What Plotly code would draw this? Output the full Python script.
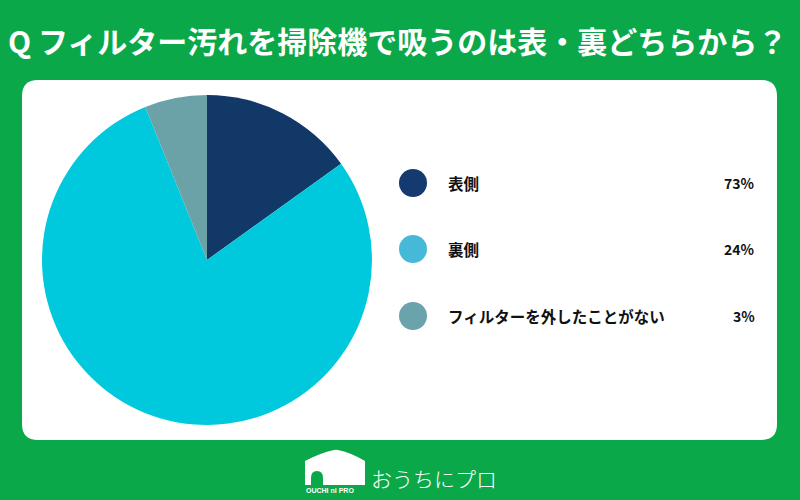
import plotly.graph_objects as go

# ---- data ----
title_text = "Q フィルター汚れを掃除機で吸うのは表・裏どちらから？"
categories = ["表側", "裏側", "フィルターを外したことがない"]
legend_pct = ["73%", "24%", "3%"]
pie_share = [15.1, 78.8, 6.1]          # slice sizes as drawn in the picture
pie_colors = ["#123868", "#00c9dd", "#6aa2a8"]
legend_colors = ["#143a70", "#45b9d7", "#6aa3ac"]
brand_text = "おうちにプロ"
brand_small = "OUCHI ni PRO"

GREEN = "#0ba84a"
FONT = "Noto Sans CJK JP"

W, H = 800, 500
fig = go.Figure()

# pie
fig.add_trace(go.Pie(
    values=pie_share, labels=categories,
    marker=dict(colors=pie_colors, line=dict(width=0)),
    sort=False, direction="clockwise", rotation=0,
    textinfo="none", hoverinfo="label+percent",
    domain=dict(x=[42 / W, 372 / W], y=[1 - 425 / H, 1 - 95 / H]),
    showlegend=False,
))

# legend markers
leg_y = [183, 249, 316]
fig.add_trace(go.Scatter(
    x=[413] * 3, y=leg_y, mode="markers",
    marker=dict(size=28, color=legend_colors, line=dict(width=0)),
    showlegend=False, hoverinfo="skip",
))

shapes = []
# white rounded panel
x0, y0, x1, y1, r = 22, 80, 777, 440, 16
panel = (f"M {x0+r},{y0} L {x1-r},{y0} Q {x1},{y0} {x1},{y0+r} "
         f"L {x1},{y1-r} Q {x1},{y1} {x1-r},{y1} L {x0+r},{y1} "
         f"Q {x0},{y1} {x0},{y1-r} L {x0},{y0+r} Q {x0},{y0} {x0+r},{y0} Z")
shapes.append(dict(type="path", path=panel, xref="x", yref="y",
                   fillcolor="white", line=dict(width=0), layer="below"))
# house logo
house = "M 305,461 Q 320,453 334,450 Q 336,449.5 338,450 Q 352,453 365,461 L 365,485 L 305,485 Z"
shapes.append(dict(type="path", path=house, xref="x", yref="y",
                   fillcolor="white", line=dict(width=0), layer="above"))
door = "M 311,485 L 311,478 Q 311,471 317,471 Q 323,471 323,478 L 323,485 Z"
shapes.append(dict(type="path", path=door, xref="x", yref="y",
                   fillcolor=GREEN, line=dict(width=0), layer="above"))

annotations = []
annotations.append(dict(x=397, y=40, xref="x", yref="y", text=f"<b>{title_text}</b>",
                        showarrow=False, font=dict(family=FONT, size=30, color="white"),
                        xanchor="center", yanchor="middle"))
for yy, cat, pct in zip(leg_y, categories, legend_pct):
    annotations.append(dict(x=446, y=yy, xref="x", yref="y", text=f"<b>{cat}</b>",
                            showarrow=False, font=dict(family=FONT, size=15.5, color="#111"),
                            xanchor="left", yanchor="middle"))
    annotations.append(dict(x=757, y=yy, xref="x", yref="y", text=f"<b>{pct}</b>",
                            showarrow=False, font=dict(family=FONT, size=14, color="#111"),
                            xanchor="right", yanchor="middle"))
annotations.append(dict(x=369, y=478, xref="x", yref="y", text=brand_text,
                        showarrow=False, font=dict(family=FONT, size=21, color="white", weight=300),
                        xanchor="left", yanchor="middle"))
annotations.append(dict(x=330, y=490, xref="x", yref="y", text=f"<b>{brand_small}</b>",
                        showarrow=False, font=dict(family="Liberation Sans Narrow, Liberation Sans", size=7, color="white"),
                        xanchor="center", yanchor="middle"))

fig.update_layout(
    width=W, height=H,
    margin=dict(l=0, r=0, t=0, b=0),
    paper_bgcolor=GREEN, plot_bgcolor=GREEN,
    xaxis=dict(range=[0, W], visible=False, fixedrange=True),
    yaxis=dict(range=[H, 0], visible=False, fixedrange=True),
    shapes=shapes, annotations=annotations,
    showlegend=False,
)

fig.write_html("out.html", config={"displayModeBar": False},
               post_script="document.body.style.margin='0';document.body.style.overflow='hidden';")
